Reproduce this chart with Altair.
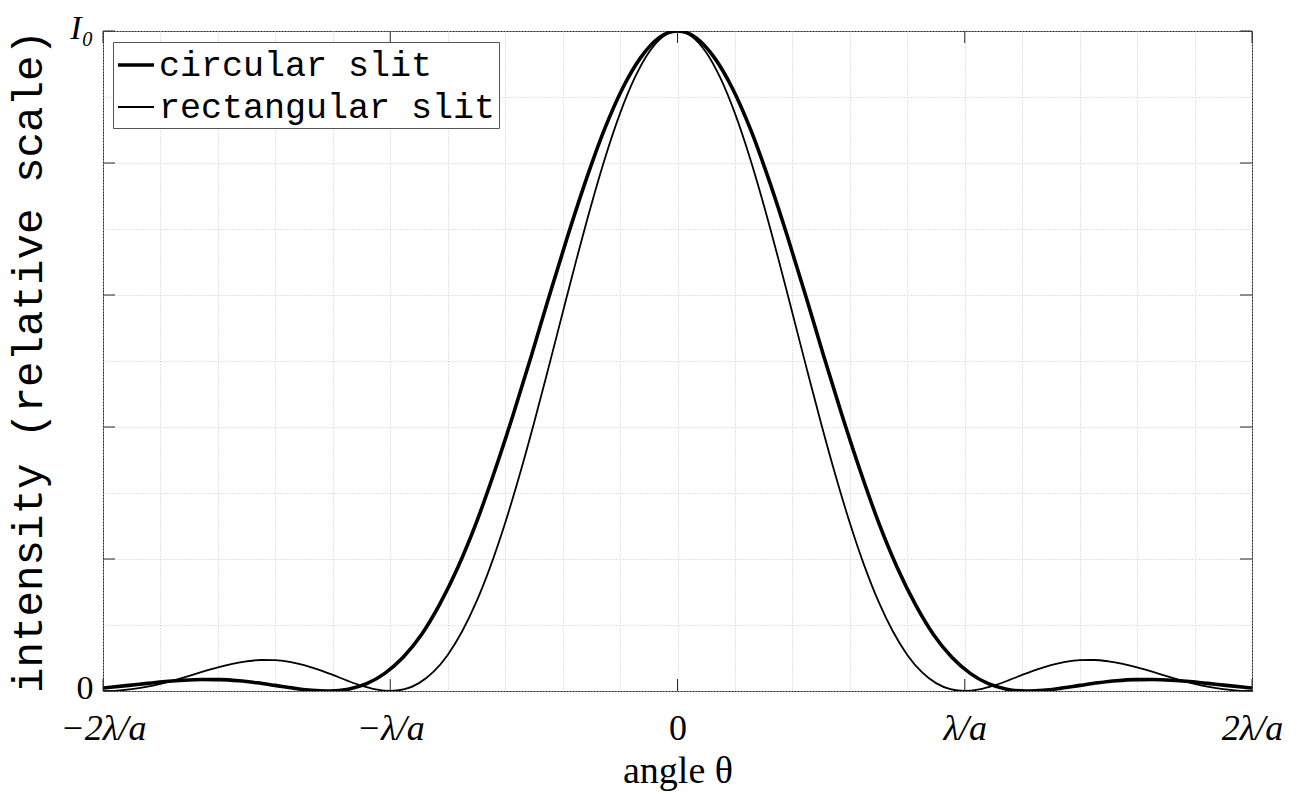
import altair as alt
import pandas as pd

# ---- data (x in units of lambda/a, y relative to I0) ----
rect_x = [-2.0, -1.95, -1.9, -1.85, -1.8, -1.75, -1.7, -1.65, -1.6, -1.55, -1.5, -1.45, -1.4, -1.35,
          -1.3, -1.25, -1.2, -1.15, -1.1, -1.05, -1.0, -0.95, -0.9, -0.85, -0.8, -0.75, -0.7, -0.65,
          -0.6, -0.55, -0.5, -0.45, -0.4, -0.35, -0.3, -0.25, -0.2, -0.15, -0.1, -0.05, 0.0,
          0.05, 0.1, 0.15, 0.2, 0.25, 0.3, 0.35, 0.4, 0.45, 0.5, 0.55, 0.6, 0.65, 0.7, 0.75, 0.8,
          0.85, 0.9, 0.95, 1.0, 1.05, 1.1, 1.15, 1.2, 1.25, 1.3, 1.35, 1.4, 1.45, 1.5, 1.55, 1.6,
          1.65, 1.7, 1.75, 1.8, 1.85, 1.9, 1.95, 2.0]
rect_y = [0.0, 0.0007, 0.0027, 0.0061, 0.0108, 0.0165, 0.0230, 0.0296, 0.0358, 0.0411, 0.0450,
          0.0470, 0.0468, 0.0441, 0.0392, 0.0324, 0.0243, 0.0158, 0.0080, 0.0023, 0.0, 0.0028,
          0.0119, 0.0289, 0.0547, 0.0901, 0.1353, 0.1904, 0.2546, 0.3268, 0.4053, 0.4881, 0.5728,
          0.6566, 0.7368, 0.8106, 0.8751, 0.9281, 0.9675, 0.9918, 1.0,
          0.9918, 0.9675, 0.9281, 0.8751, 0.8106, 0.7368, 0.6566, 0.5728, 0.4881, 0.4053, 0.3268,
          0.2546, 0.1904, 0.1353, 0.0901, 0.0547, 0.0289, 0.0119, 0.0028, 0.0, 0.0023, 0.0080,
          0.0158, 0.0243, 0.0324, 0.0392, 0.0441, 0.0468, 0.0470, 0.0450, 0.0411, 0.0358, 0.0296,
          0.0230, 0.0165, 0.0108, 0.0061, 0.0027, 0.0007, 0.0]

circ_x = [-2.0, -1.974, -1.91, -1.846, -1.783, -1.719, -1.655, -1.592, -1.528, -1.464, -1.401,
          -1.337, -1.273, -1.22, -1.21, -1.146, -1.082, -1.019, -0.955, -0.891, -0.828, -0.764,
          -0.7, -0.637, -0.573, -0.509, -0.446, -0.382, -0.318, -0.255, -0.191, -0.127, -0.064, 0.0,
          0.064, 0.127, 0.191, 0.255, 0.318, 0.382, 0.446, 0.509, 0.573, 0.637, 0.7, 0.764, 0.828,
          0.891, 0.955, 1.019, 1.082, 1.146, 1.21, 1.22, 1.273, 1.337, 1.401, 1.464, 1.528, 1.592,
          1.655, 1.719, 1.783, 1.846, 1.91, 1.974, 2.0]
circ_y = [0.0045, 0.0056, 0.0085, 0.0115, 0.0143, 0.0164, 0.0174, 0.0172, 0.0155, 0.0124, 0.0085,
          0.0044, 0.0011, 0.0, 0.0, 0.0028, 0.0111, 0.0267, 0.0511, 0.0856, 0.1312, 0.1879, 0.2555,
          0.3326, 0.4175, 0.5075, 0.5993, 0.6897, 0.7748, 0.8501, 0.9133, 0.9604, 0.99, 1.0,
          0.99, 0.9604, 0.9133, 0.8501, 0.7748, 0.6897, 0.5993, 0.5075, 0.4175, 0.3326, 0.2555,
          0.1879, 0.1312, 0.0856, 0.0511, 0.0267, 0.0111, 0.0028, 0.0, 0.0, 0.0011, 0.0044, 0.0085,
          0.0124, 0.0155, 0.0172, 0.0174, 0.0164, 0.0143, 0.0115, 0.0085, 0.0056, 0.0045]

series_names = ["circular slit", "rectangular slit"]

x_grid = [-2.0, -1.8, -1.6, -1.4, -1.2, -1.0, -0.8, -0.6, -0.4, -0.2, 0.0,
          0.2, 0.4, 0.6, 0.8, 1.0, 1.2, 1.4, 1.6, 1.8, 2.0]
y_grid = [0.0, 0.05, 0.1, 0.15, 0.2, 0.25, 0.3, 0.35, 0.4, 0.45, 0.5,
          0.55, 0.6, 0.65, 0.7, 0.75, 0.8, 0.85, 0.9, 0.95, 1.0]
x_ticks = [-2, -1, 0, 1, 2]
y_ticks = [0.0, 0.2, 0.4, 0.6, 0.8, 1.0]

df = pd.DataFrame({
    "x": circ_x + rect_x,
    "y": circ_y + rect_y,
    "series": [series_names[0]] * len(circ_x) + [series_names[1]] * len(rect_x),
})

W, H = 1149, 660
TICK = 12
SERIF = "Liberation Serif"
MONO = "Liberation Mono"
GRID = "#c8c8c8"

x_label_expr = (
    "abs(datum.value + 2) < 1e-6 ? '\u22122\u03bb/a' : "
    "abs(datum.value + 1) < 1e-6 ? '\u2212\u03bb/a' : "
    "abs(datum.value) < 1e-6 ? '0' : "
    "abs(datum.value - 1) < 1e-6 ? '\u03bb/a' : "
    "abs(datum.value - 2) < 1e-6 ? '2\u03bb/a' : ''"
)
y_label_expr = (
    "abs(datum.value) < 1e-6 ? '0' : abs(datum.value - 1) < 1e-6 ? 'I\u2080' : ''"
)

x_scale = alt.Scale(domain=[-2, 2], nice=False, zero=False)
y_scale = alt.Scale(domain=[0, 1], nice=False, zero=False)

x_axis = alt.Axis(
    values=x_grid, grid=True, gridDash=[1, 2], gridColor=GRID, gridWidth=1,
    ticks=False, domain=False, labelExpr=x_label_expr, labelOverlap=False, labelFlush=False,
    labelFont=SERIF, labelFontSize=36, labelColor="black", labelPadding=48,
    labelBaseline="alphabetic",
    labelFontStyle={"condition": {"test": "abs(datum.value) < 1e-6", "value": "normal"}, "value": "italic"},
    title="angle \u03b8", titleFont=SERIF, titleFontSize=38, titleFontWeight="normal",
    titleColor="black", titleX=W / 2, titleY=91, titleBaseline="alphabetic", titleAlign="center",
)
y_axis = alt.Axis(
    values=y_grid, grid=True, gridDash=[1, 2], gridColor=GRID, gridWidth=1,
    ticks=False, domain=False, labelExpr=y_label_expr, labelOverlap=False, labelFlush=False,
    labelFont=SERIF, labelFontSize=34, labelColor="black", labelPadding=10, labelOffset=-3,
    labelBaseline="middle", labelAlign="right",
    labelFontStyle={"condition": {"test": "abs(datum.value) < 1e-6", "value": "normal"}, "value": "italic"},
    title="intensity (relative scale)", titleFont=MONO, titleFontSize=42.5,
    titleFontWeight="normal", titleColor="black", titleAngle=270,
    titleX=-75, titleY=H / 2, titleAlign="center", titleBaseline="middle",
)

lines = alt.Chart(df).mark_line(color="black", interpolate="monotone", clip=True).encode(
    x=alt.X("x:Q", scale=x_scale, axis=x_axis),
    y=alt.Y("y:Q", scale=y_scale, axis=y_axis),
    strokeWidth=alt.StrokeWidth(
        "series:N",
        scale=alt.Scale(domain=series_names, range=[3.6, 1.8]),
        legend=alt.Legend(
            title=None, orient="none", legendX=10, legendY=11,
            symbolType="stroke", symbolSize=1300, symbolStrokeColor="black",
            labelFont=MONO, labelFontSize=35, labelColor="black", labelLimit=0,
            labelOffset=3, fillColor="white", strokeColor="#555555",
            padding=3, rowPadding=5, offset=0,
        ),
    ),
)

xt = pd.DataFrame({"t": x_ticks})
yt = pd.DataFrame({"t": y_ticks})

tick_color = "#262626"
xb = alt.Chart(xt).mark_rule(color=tick_color, strokeWidth=1).encode(
    x=alt.X("t:Q", scale=x_scale), y=alt.value(H), y2=alt.value(H - TICK))
xtop = alt.Chart(xt).mark_rule(color=tick_color, strokeWidth=1).encode(
    x=alt.X("t:Q", scale=x_scale), y=alt.value(0), y2=alt.value(TICK))
yl = alt.Chart(yt).mark_rule(color=tick_color, strokeWidth=1).encode(
    y=alt.Y("t:Q", scale=y_scale), x=alt.value(0), x2=alt.value(TICK))
yr = alt.Chart(yt).mark_rule(color=tick_color, strokeWidth=1).encode(
    y=alt.Y("t:Q", scale=y_scale), x=alt.value(W), x2=alt.value(W - TICK))

chart = alt.layer(lines, xb, xtop, yl, yr).properties(
    width=W, height=H,
    autosize=alt.AutoSizeParams(type="none"),
    padding={"left": 103, "top": 31, "right": 46, "bottom": 103},
    background="white",
).configure_view(stroke="#262626", strokeWidth=1)

chart.save("out.html", embed_options={"renderer": "svg", "actions": False})
